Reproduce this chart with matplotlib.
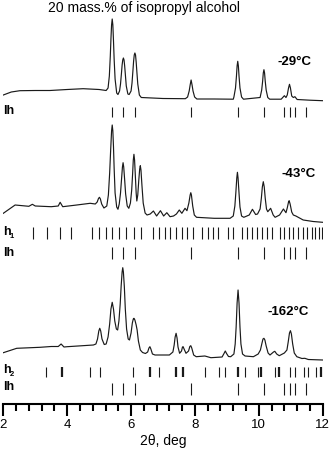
import numpy as np
import matplotlib
matplotlib.use("Agg")
from matplotlib import pyplot as plt
from matplotlib.ticker import MultipleLocator

plt.rcParams['font.family'] = ['Liberation Sans', 'DejaVu Sans']

# --- diffraction patterns: (2theta deg, intensity arb. units) ---
pat_29 = [(2.00, 6), (2.25, 9), (2.52, 10.3), (3.00, 10.5), (3.46, 10.5), (4.00, 11.5),
          (4.50, 12.3), (5.00, 11.5), (5.22, 10.5),
          (5.28, 13), (5.32, 25), (5.35, 45), (5.37, 62), (5.39, 76), (5.41, 82), (5.43, 76),
          (5.45, 60), (5.47, 42), (5.50, 22), (5.55, 8), (5.59, 6.5),
          (5.64, 10), (5.67, 17), (5.70, 28), (5.72, 36), (5.74, 41), (5.76, 43), (5.78, 41),
          (5.80, 35), (5.82, 27), (5.85, 15), (5.90, 7), (5.94, 6.5),
          (6.00, 10), (6.03, 18), (6.06, 31), (6.08, 40), (6.10, 46), (6.12, 48), (6.14, 46),
          (6.16, 39), (6.18, 30), (6.21, 17), (6.26, 6), (6.32, 3.5),
          (7.00, 2.5), (7.70, 2.3),
          (7.77, 4), (7.82, 10), (7.85, 16), (7.88, 21), (7.91, 16), (7.94, 10), (7.99, 4),
          (8.06, 2), (8.60, 2), (9.20, 1.8),
          (9.22, 4), (9.27, 13), (9.30, 25), (9.32, 35), (9.34, 39.7), (9.36, 35), (9.38, 25),
          (9.41, 13), (9.46, 4), (9.52, 1.8),
          (10.04, 3.5), (10.09, 11), (10.12, 20), (10.14, 28), (10.16, 31.3), (10.18, 28),
          (10.20, 20), (10.23, 11), (10.28, 3.5), (10.34, 1.8),
          (10.70, 1.8), (10.80, 5.3), (10.85, 3.5), (10.89, 6), (10.93, 13), (10.96, 16.7),
          (10.99, 13), (11.03, 5), (11.08, 3.5), (11.13, 4.3), (11.20, 1.5), (11.60, 0.8),
          (12.00, 0.3)]

pat_43 = [(2.00, 9.7), (2.37, 18), (2.80, 16.7), (2.91, 18.7), (3.00, 17), (3.50, 16.3),
          (3.72, 17), (3.78, 20.7), (3.86, 16.3), (4.30, 18), (4.72, 19.7), (4.88, 19),
          (4.94, 21), (4.98, 24.5), (5.01, 25.7), (5.04, 24), (5.08, 19), (5.15, 15),
          (5.24, 17), (5.29, 28), (5.33, 50), (5.36, 72), (5.39, 92), (5.41, 98), (5.43, 92),
          (5.45, 76), (5.47, 55), (5.50, 30), (5.55, 16), (5.59, 13.7),
          (5.63, 19), (5.67, 30), (5.70, 43), (5.73, 56), (5.75, 60.3), (5.77, 56), (5.80, 43),
          (5.83, 29), (5.88, 17), (5.93, 14.7),
          (5.98, 20), (6.02, 33), (6.05, 50), (6.07, 63), (6.09, 68.7), (6.11, 63), (6.13, 50),
          (6.16, 30), (6.18, 22),
          (6.21, 28), (6.24, 42), (6.27, 54), (6.29, 57.3), (6.31, 53), (6.34, 38), (6.38, 20),
          (6.44, 10), (6.50, 8),
          (6.60, 9), (6.70, 12), (6.80, 7), (6.92, 12.3), (7.02, 7), (7.12, 10.3), (7.22, 6.3),
          (7.33, 7), (7.42, 9), (7.51, 13), (7.59, 9.7), (7.69, 14.7), (7.75, 12.3),
          (7.81, 20), (7.85, 28), (7.87, 30.3), (7.89, 28), (7.93, 17), (7.98, 8), (8.05, 5.7),
          (8.60, 4.7), (9.10, 4.7),
          (9.20, 7), (9.25, 17), (9.28, 30), (9.31, 45), (9.33, 50.7), (9.35, 45), (9.38, 30),
          (9.41, 16), (9.46, 7), (9.53, 5.7),
          (9.70, 8), (9.80, 13.7), (9.90, 8.5), (9.96, 9),
          (10.04, 14), (10.08, 25), (10.11, 36), (10.14, 41.3), (10.17, 36), (10.20, 25),
          (10.24, 14), (10.28, 11.3), (10.37, 14.7), (10.45, 8), (10.51, 5.7), (10.65, 8),
          (10.77, 14), (10.85, 10.3),
          (10.89, 15), (10.93, 21), (10.95, 22.3), (10.98, 19), (11.03, 11), (11.08, 8),
          (11.16, 7), (11.39, 3), (11.70, 1.5), (12.00, 0.7)]

pat_162 = [(2.00, 8.3), (2.42, 12.7), (3.15, 13.7), (3.50, 14.5), (3.72, 14.5), (3.81, 17),
           (3.90, 14), (4.00, 14.3), (4.82, 16), (4.90, 17),
           (4.95, 22), (4.99, 30), (5.02, 32.7), (5.05, 30), (5.09, 22), (5.16, 16.5), (5.22, 17),
           (5.28, 24), (5.33, 37), (5.37, 52), (5.41, 58.7), (5.45, 52), (5.49, 40), (5.54, 32),
           (5.58, 31),
           (5.62, 40), (5.66, 57), (5.69, 75), (5.72, 89), (5.74, 93.3), (5.76, 89), (5.79, 74),
           (5.82, 52), (5.86, 32), (5.91, 22), (5.95, 21),
           (6.00, 28), (6.04, 38), (6.07, 42), (6.09, 42.7), (6.12, 41), (6.16, 36), (6.19, 31),
           (6.23, 20), (6.29, 11), (6.36, 8.5), (6.45, 7.5),
           (6.52, 9), (6.56, 13), (6.59, 14.3), (6.62, 12), (6.67, 7), (6.75, 6), (7.20, 6),
           (7.31, 9), (7.35, 16), (7.38, 24), (7.41, 27.7), (7.44, 23), (7.47, 14), (7.52, 7.7),
           (7.58, 10), (7.61, 14), (7.63, 14.3), (7.66, 12), (7.72, 7.7),
           (7.80, 10), (7.84, 14.5), (7.87, 15.3), (7.90, 13), (7.96, 6), (8.04, 4.3),
           (8.31, 5), (8.50, 3.3), (8.85, 4),
           (8.91, 7.5), (8.95, 10), (8.99, 7.5), (9.05, 4.5), (9.12, 4.3),
           (9.22, 7), (9.26, 17), (9.29, 34), (9.32, 58), (9.35, 71), (9.38, 58), (9.41, 34),
           (9.44, 17), (9.49, 7), (9.57, 5), (9.83, 4.3), (9.98, 7),
           (10.05, 11), (10.10, 18), (10.13, 22), (10.16, 22.7), (10.19, 21), (10.23, 15),
           (10.29, 8), (10.35, 6), (10.46, 9), (10.50, 9.7), (10.56, 7), (10.64, 5.3),
           (10.80, 8),
           (10.88, 11), (10.92, 19), (10.96, 28), (10.99, 30.3), (11.02, 27), (11.06, 17),
           (11.11, 8), (11.19, 4.3), (11.35, 2.5), (11.44, 2.7), (11.55, 1.5), (12.00, 1)]

# --- reflection positions ---
pos_Ih = [5.41, 5.76, 6.12, 7.88, 9.34, 10.16, 10.80, 10.97, 11.14, 11.48]
pos_h1 = [2.94, 3.38, 3.78, 4.12, 4.77, 5.00, 5.21, 5.40, 5.62, 5.85, 6.08, 6.31,
          6.70, 6.87, 7.05, 7.23, 7.41, 7.59, 7.75, 7.93, 8.23, 8.40, 8.56, 8.71,
          9.04, 9.18, 9.48, 9.64, 9.80, 9.94, 10.09, 10.26, 10.41, 10.65, 10.80,
          10.94, 11.08, 11.23, 11.37, 11.52, 11.66, 11.77, 11.88, 11.98]
pos_h2 = [3.34, 3.84, 4.71, 5.03, 6.06, 6.59, 6.87, 7.41, 7.63, 8.31, 8.75, 8.94,
          9.35, 9.57, 9.97, 10.07, 10.51, 10.64, 10.98, 11.13, 11.41, 11.54, 11.79, 11.95]
mult_h2 = [1, 2, 1, 1, 1, 2, 1, 2, 2, 1, 1, 1, 2, 1, 1, 2, 1, 2, 1, 1, 1, 1, 1, 2]

temps = ['-29°C', '-43°C', '-162°C']

fig = plt.figure(figsize=(3.31, 4.53), dpi=100)
ax = fig.add_axes([3.3/331, 49.5/453, 319.4/331, 403.5/453])
ax.set_xlim(2, 12)
ax.set_ylim(0, 403.5)

lc = '#1a1a1a'
offsets = [302.5, 180.5, 42.5]
for pat, off in zip([pat_29, pat_43, pat_162], offsets):
    tt, I = np.array(pat).T
    ax.plot(tt, I + off, color=lc, lw=0.85)

# reflection tick rows
ax.vlines(pos_Ih, 286.5, 296.5, color=lc, lw=0.8)
ax.vlines(pos_h1, 164.5, 176.5, color=lc, lw=0.8)
ax.vlines(pos_Ih, 144.5, 156.5, color=lc, lw=0.8)
ax.vlines(pos_h2, 26.5, 36.5, color=lc, lw=[0.8 * m for m in mult_h2])
ax.vlines(pos_Ih, 8.5, 20.5, color=lc, lw=0.8)

lab = dict(fontsize=9, fontweight='bold', va='center', ha='left')
ax.text(2.0, 292.5, 'Ih', **lab)
ax.text(2.0, 171.5, 'h', **lab)
ax.text(2.2, 166.5, '1', fontsize=5.5, fontweight='bold', va='center', ha='left')
ax.text(2.0, 150.5, 'Ih', **lab)
ax.text(2.0, 33.5, 'h', **lab)
ax.text(2.2, 28.5, '2', fontsize=5.5, fontweight='bold', va='center', ha='left')
ax.text(2.0, 16, 'Ih', **lab)

for t, (x, y) in zip(temps, [(11.13, 341.5), (11.26, 229.5), (10.91, 91.5)]):
    ax.text(x, y, t, fontsize=9.5, fontweight='bold', ha='center', va='center')

ax.text(6.4, 395.5, '20 mass.% of isopropyl alcohol', fontsize=10,
        ha='center', va='center')

for s in ['left', 'right', 'top']:
    ax.spines[s].set_visible(False)
ax.spines['bottom'].set_linewidth(1.5)
ax.set_yticks([])
ax.xaxis.set_major_locator(MultipleLocator(2))
ax.xaxis.set_minor_locator(MultipleLocator(0.4))
ax.tick_params(axis='x', which='major', direction='out', length=8.5, width=1.5,
               labelsize=9.5, pad=3)
ax.tick_params(axis='x', which='minor', direction='out', length=5, width=1.5)
ax.set_xlabel('2θ, deg', fontsize=10, labelpad=2)
ax.patch.set_alpha(0)

fig.savefig('out.png', dpi=100)
